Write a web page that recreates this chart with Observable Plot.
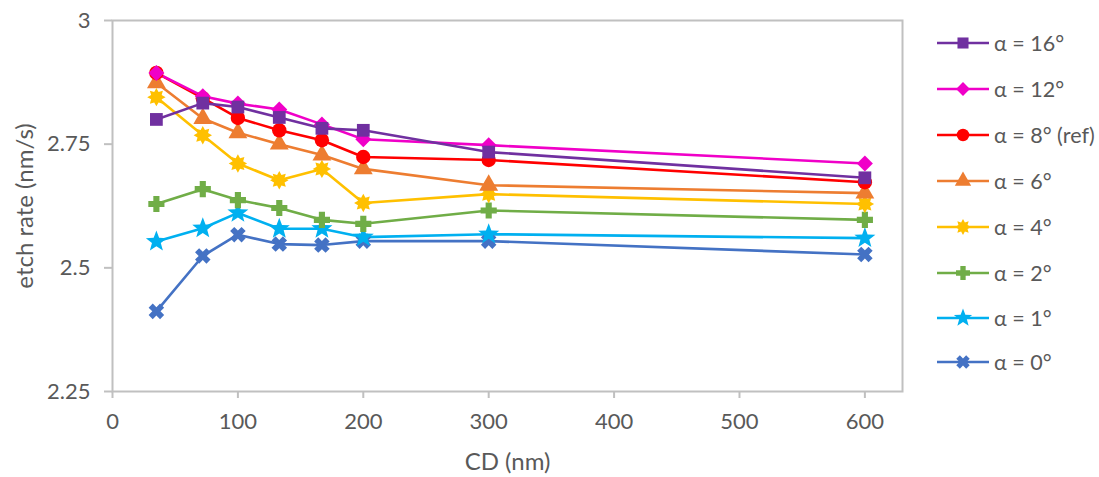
<!DOCTYPE html>
<html>
<head>
<meta charset="utf-8">
<script src="https://cdn.jsdelivr.net/npm/d3@7"></script>
<script src="https://cdn.jsdelivr.net/npm/@observablehq/plot@0.6"></script>
<style>
  html, body { margin: 0; padding: 0; background: #fff; }
  #wrap { position: relative; width: 1099px; height: 477px; font-family: Lato, "Open Sans", sans-serif; }
  #legend { position: absolute; left: 935px; top: 0; }
  .item { position: absolute; left: 0; height: 26px; display: flex; align-items: center; white-space: nowrap;
          font-size: 21.5px; color: #595959; }
  .item svg { margin-right: 3px; }
</style>
</head>
<body>
<div id="wrap"><div id="chart"></div><div id="legend"></div></div>
<script>
const cd = [35, 72, 100, 133, 167, 200, 300, 600];
const seriesNames = ["α = 16°", "α = 12°", "α = 8° (ref)", "α = 6°", "α = 4°", "α = 2°", "α = 1°", "α = 0°"];
const a16 = [2.800, 2.833, 2.825, 2.804, 2.782, 2.778, 2.734, 2.682];
const a12 = [2.894, 2.847, 2.832, 2.820, 2.790, 2.760, 2.748, 2.711];
const a8  = [2.894, 2.843, 2.803, 2.778, 2.758, 2.724, 2.718, 2.673];
const a6  = [2.874, 2.802, 2.773, 2.750, 2.728, 2.700, 2.667, 2.651];
const a4  = [2.845, 2.768, 2.711, 2.677, 2.700, 2.631, 2.649, 2.629];
const a2  = [2.629, 2.659, 2.637, 2.621, 2.597, 2.589, 2.616, 2.597];
const a1  = [2.553, 2.580, 2.611, 2.579, 2.579, 2.562, 2.568, 2.560];
const a0  = [2.412, 2.524, 2.567, 2.548, 2.546, 2.554, 2.554, 2.527];
const xTicks = [0, 100, 200, 300, 400, 500, 600];
const yTicks = [2.25, 2.5, 2.75, 3];
const xTitle = "CD (nm)";
const yTitle = "etch rate (nm/s)";

const colors = ["#7030A0", "#F000C8", "#FF0000", "#ED7D31", "#FFC000", "#70AD47", "#00B0F0", "#4472C4"];

// custom symbols
const burst = { draw(ctx, size) {
  const n = 8, R = Math.sqrt(size / Math.PI) * 1.15, r = R * 0.62;
  for (let i = 0; i < 2 * n; i++) {
    const a = Math.PI * i / n - Math.PI / 2;
    const rr = i % 2 ? r : R;
    const x = rr * Math.cos(a), y = rr * Math.sin(a);
    i ? ctx.lineTo(x, y) : ctx.moveTo(x, y);
  }
  ctx.closePath();
}};
const star5 = { draw(ctx, size) {
  const n = 5, R = Math.sqrt(size / Math.PI) * 1.3, r = R * 0.42;
  for (let i = 0; i < 2 * n; i++) {
    const a = Math.PI * i / n - Math.PI / 2;
    const rr = i % 2 ? r : R;
    const x = rr * Math.cos(a), y = rr * Math.sin(a);
    i ? ctx.lineTo(x, y) : ctx.moveTo(x, y);
  }
  ctx.closePath();
}};
const xcross = { draw(ctx, size) {
  const s = Math.sqrt(size / Math.PI) * 0.95, w = s * 0.36;
  const pts = [[-w,-s],[w,-s],[w,-w],[s,-w],[s,w],[w,w],[w,s],[-w,s],[-w,w],[-s,w],[-s,-w],[-w,-w]];
  const c = Math.SQRT1_2;
  pts.forEach(([x,y], i) => { const X = (x - y) * c, Y = (x + y) * c; i ? ctx.lineTo(X, Y) : ctx.moveTo(X, Y); });
  ctx.closePath();
}};
const plusS = { draw(ctx, size) {
  const s = Math.sqrt(size / Math.PI) * 0.95, w = s * 0.38;
  const pts = [[-w,-s],[w,-s],[w,-w],[s,-w],[s,w],[w,w],[w,s],[-w,s],[-w,w],[-s,w],[-s,-w],[-w,-w]];
  pts.forEach(([x,y], i) => i ? ctx.lineTo(x, y) : ctx.moveTo(x, y));
  ctx.closePath();
}};
const diamondSq = { draw(ctx, size) {
  const s = Math.sqrt(size / Math.PI) * 1.05;
  ctx.moveTo(0, -s); ctx.lineTo(s, 0); ctx.lineTo(0, s); ctx.lineTo(-s, 0); ctx.closePath();
}};
const symbols = [d3.symbolSquare, diamondSq, d3.symbolCircle, d3.symbolTriangle, burst, plusS, star5, xcross];
const radii = [7.2, 7.6, 7.2, 7.0, 8, 8.5, 8.5, 8.5];

const values = [a16, a12, a8, a6, a4, a2, a1, a0];
const rows = [];
values.forEach((arr, s) => arr.forEach((v, i) => rows.push({ s, name: seriesNames[s], x: cd[i], y: v })));
const drawOrder = [7, 6, 5, 4, 3, 2, 1, 0];

const marks = [
  Plot.frame({ stroke: "#c0c0c0", strokeWidth: 2 }),
  Plot.axisX({ ticks: xTicks, tickSize: 7, tickPadding: 15, fontSize: 22, stroke: "#c0c0c0", strokeWidth: 2,
               color: "#595959", label: null }),
  Plot.axisY({ ticks: yTicks, tickSize: 8, tickPadding: 14, fontSize: 22, stroke: "#c0c0c0", strokeWidth: 2,
               color: "#595959", tickFormat: d => String(d), label: null }),
  Plot.text([xTitle], { text: d => d, frameAnchor: "bottom", dy: 78, fontSize: 24, fill: "#595959" }),
  Plot.text([yTitle], { text: d => d, frameAnchor: "left", textAnchor: "middle", dx: -87, rotate: -90,
                        fontSize: 24, fill: "#595959" }),
];
drawOrder.forEach(s => {
  const data = rows.filter(d => d.s === s);
  marks.push(Plot.line(data, { x: "x", y: "y", stroke: colors[s], strokeWidth: 2.6 }));
});
drawOrder.forEach(s => {
  const data = rows.filter(d => d.s === s);
  marks.push(Plot.dot(data, { x: "x", y: "y", fill: colors[s], stroke: "none", r: radii[s], symbol: () => symbols[s] }));
});

const chart = Plot.plot({
  width: 1099, height: 477,
  marginLeft: 112, marginRight: 197, marginTop: 20, marginBottom: 86,
  style: { fontFamily: "Lato, 'Open Sans', sans-serif", fontSize: "22px", color: "#595959", background: "#fff" },
  x: { domain: [0, 630] },
  y: { domain: [2.25, 3] },
  marks
});
document.getElementById("chart").appendChild(chart);

// legend
const legend = d3.select("#legend");
const ys = [43, 89, 135, 181, 227, 273, 318, 362];
seriesNames.forEach((name, s) => {
  const item = legend.append("div").attr("class", "item").style("top", (ys[s] - 13) + "px");
  const svg = item.append("svg").attr("width", 56).attr("height", 24);
  svg.append("line").attr("x1", 2).attr("x2", 54).attr("y1", 12).attr("y2", 12)
     .attr("stroke", colors[s]).attr("stroke-width", 2.6);
  const size = Math.PI * radii[s] * radii[s] * 0.75;
  svg.append("path").attr("transform", "translate(28,12)")
     .attr("d", d3.symbol(symbols[s], size)()).attr("fill", colors[s]);
  item.append("span").text(name);
});
</script>
</body>
</html>
